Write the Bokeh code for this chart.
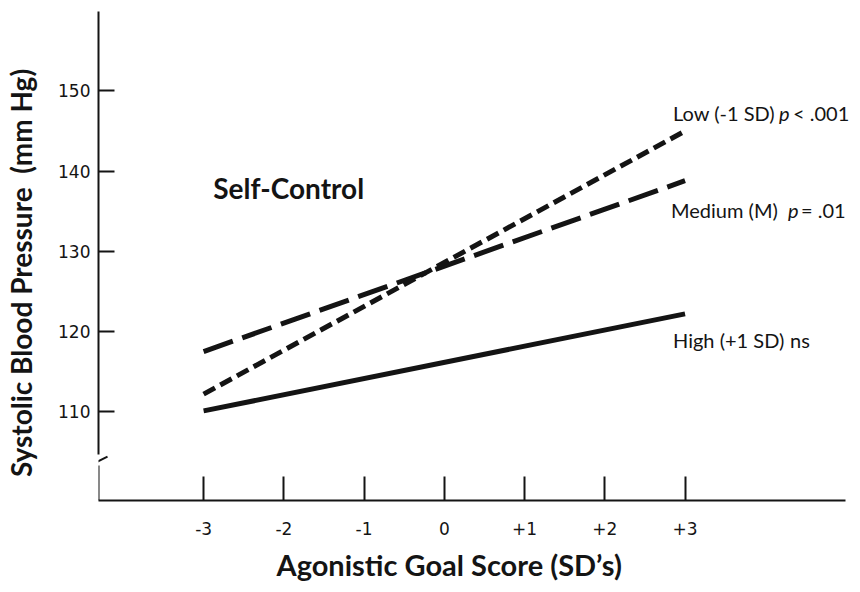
from bokeh.plotting import figure
from bokeh.models import Range1d, Label, Arrow, FixedTicker, Title
from bokeh.embed import file_html
from bokeh.resources import INLINE

# ---- data ----
x_ticks = [-3, -2, -1, 0, 1, 2, 3]
x_tick_labels = ["-3", "-2", "-1", "0", "+1", "+2", "+3"]
y_ticks = [110, 120, 130, 140, 150]

goal_score = [-3, 3]
bp_low = [112.2, 145.0]      # Low (-1 SD) self-control
bp_medium = [117.5, 138.8]   # Medium (M)
bp_high = [110.1, 122.2]     # High (+1 SD)

INK = "#141414"
LABEL_FONT = "Lato"
TICK_FONT = "DejaVu Sans"
NB = "\u00a0"

X0, X1 = -4.31, 5.087
X_AXIS_END = 5.0
Y0, Y1 = 98.93, 159.9
BREAK_LO, BREAK_HI = 103.28, 104.65

p = figure(width=856, height=590,
           x_range=Range1d(X0, X1), y_range=Range1d(Y0, Y1),
           output_backend="svg", toolbar_location=None,
           min_border_left=98, min_border_right=4,
           min_border_top=11, min_border_bottom=90)
p.outline_line_color = None
p.xgrid.visible = False
p.ygrid.visible = False
p.background_fill_color = "white"

# x axis
xa = p.xaxis[0]
xa.ticker = FixedTicker(ticks=x_ticks)
xa.bounds = (X0, X_AXIS_END)
xa.major_label_overrides = {t: s for t, s in zip(x_ticks, x_tick_labels)}
xa.major_tick_in = 24
xa.major_tick_out = 0
xa.minor_tick_line_color = None
xa.axis_line_width = 2
xa.major_tick_line_width = 2
xa.axis_line_color = INK
xa.major_tick_line_color = INK
xa.major_label_text_font = TICK_FONT
xa.major_label_text_font_size = "17px"
xa.major_label_text_color = INK
xa.major_label_standoff = 21

# y axis
ya = p.yaxis[0]
ya.ticker = FixedTicker(ticks=y_ticks)
ya.bounds = (BREAK_HI, Y1)
ya.major_tick_in = 16
ya.major_tick_out = 0
ya.minor_tick_line_color = None
ya.axis_line_width = 2
ya.major_tick_line_width = 2
ya.axis_line_color = INK
ya.major_tick_line_color = INK
ya.major_label_text_font = TICK_FONT
ya.major_label_text_font_size = "17px"
ya.major_label_text_color = INK
ya.major_label_standoff = 8
ya.axis_label = "Systolic Blood Pressure" + NB + NB + "(mm Hg)" + NB * 5
ya.axis_label_text_font = LABEL_FONT
ya.axis_label_text_font_size = "28px"
ya.axis_label_text_font_style = "bold"
ya.axis_label_text_color = INK
ya.axis_label_standoff = 17

# x axis title, placed from the left of the frame like the original
p.add_layout(Title(text="Agonistic Goal Score (SD\u2019s)", align="left", offset=178,
                   text_font=LABEL_FONT, text_font_size="29px", text_font_style="bold",
                   text_color=INK, standoff=14), "below")

# lower piece of y axis below the break, and the break slash
p.add_layout(Arrow(end=None, x_start=X0, y_start=Y0, x_end=X0, y_end=BREAK_LO,
                   line_width=2, line_color=INK))
p.add_layout(Arrow(end=None, x_start=X0 - 0.037, y_start=103.66,
                   x_end=X0 + 0.112, y_end=104.40,
                   line_width=2, line_color=INK))

# lines
p.line(goal_score, bp_high, line_width=5, line_color=INK)
p.line(goal_score, bp_medium, line_width=5, line_color=INK, line_dash="31 10")
p.line(goal_score, bp_low, line_width=5, line_color=INK, line_dash="13 6")

def lab(x, y, text, xo=0, size="20px", style="normal", align="left"):
    p.add_layout(Label(x=x, y=y, x_offset=xo, text=text, text_font=LABEL_FONT,
                       text_font_size=size, text_font_style=style,
                       text_color=INK, text_align=align, text_baseline="middle"))

x_end = goal_score[-1]
# Low label
lab(x_end, 147.3, "Low (-1 SD)", xo=-12)
lab(x_end, 147.3, "p", xo=94, style="italic")
lab(x_end, 147.3, "<" + NB + ".001", xo=108)
# Medium label
lab(x_end, 135.1, "Medium (M)", xo=-14)
lab(x_end, 135.1, "p", xo=103, style="italic")
lab(x_end, 135.1, "=" + NB + ".01", xo=116)
# High label
lab(x_end, 119.0, "High (+1 SD)", xo=-12)
lab(x_end, 119.0, "ns", xo=105)

# panel title
lab(-1.94, 137.9, "Self-Control", size="28px", style="bold", align="center")

open("out.html", "w").write(file_html(p, INLINE))
